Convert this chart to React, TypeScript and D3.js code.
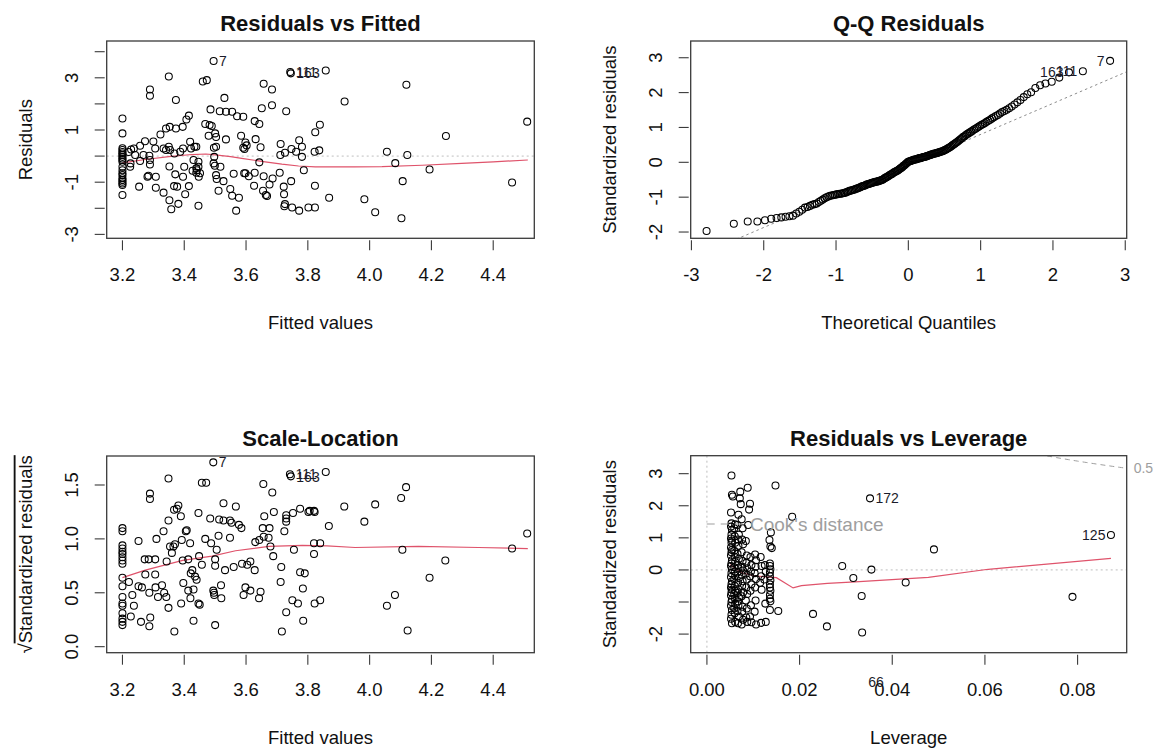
import React from "react";
import * as d3 from "d3";

// Residuals vs Fitted: [fitted value, residual]
const residVsFitted: [number, number][] = [
  [3.2, 1.44], [3.2, 0.87], [3.2, 0.3], [3.2, 0.23], [3.2, 0.16], [3.2, 0.1], [3.2, 0.04], [3.2, -0.03],
  [3.2, -0.09], [3.2, -0.15], [3.2, -0.22], [3.2, -0.41], [3.2, -0.54], [3.2, -0.66], [3.2, -0.73],
  [3.2, -0.85], [3.2, -0.92], [3.2, -0.98], [3.2, -1.05], [3.2, -1.11], [3.2, -1.49],
  [3.22, 0.16], [3.228, 0.25], [3.237, 0.29], [3.226, -0.28], [3.225, -0.41], [3.241, 0.04], [3.254, -1.17],
  [3.257, 0.4], [3.257, -0.19], [3.268, 0.04], [3.273, 0.57], [3.281, -0.79], [3.284, -0.75], [3.287, 0.01],
  [3.289, -0.32], [3.289, -0.15], [3.289, 2.55], [3.289, 2.31], [3.3, 0.56], [3.306, 0.29], [3.308, -0.79],
  [3.308, -1.21],
  [3.323, 0.83], [3.333, 0.29], [3.333, -1.4], [3.341, 1.06], [3.341, 0.23], [3.35, 0.36], [3.35, 3.05],
  [3.353, 1.12], [3.352, -0.4], [3.352, -1.69], [3.354, 0.23], [3.358, -2.04], [3.368, 0.1], [3.367, -1.15],
  [3.371, -0.7], [3.373, 1.06], [3.373, 2.15], [3.377, -1.17], [3.381, -1.83], [3.387, 0.17], [3.395, 1.12],
  [3.396, 0.29], [3.396, -0.79], [3.4, -0.41], [3.403, -1.46],
  [3.407, 1.4], [3.415, 1.55], [3.415, -1.15], [3.419, 0.55], [3.422, 0.29], [3.427, -0.56], [3.43, -0.15],
  [3.433, 0.36], [3.439, 0.36], [3.439, -0.47], [3.439, -0.64], [3.441, -0.54], [3.446, -0.22], [3.446, -0.41],
  [3.446, -1.9], [3.447, -0.79], [3.451, -0.66], [3.46, 2.86], [3.473, 2.91],
  [3.468, 1.23], [3.479, 0.78], [3.482, 1.19], [3.485, 1.79], [3.489, 1.15], [3.495, 3.64], [3.495, -0.28],
  [3.496, 0.32], [3.497, -0.03], [3.499, -0.37], [3.5, 0.87], [3.503, 0.73], [3.503, 0.36], [3.503, -0.73],
  [3.505, -0.88], [3.511, -1.33], [3.515, 1.72], [3.517, -0.41], [3.527, -0.96], [3.53, 2.23], [3.535, 1.7],
  [3.535, 0.64], [3.549, -1.26], [3.555, 1.7], [3.555, -1.52],
  [3.56, -0.68], [3.568, -2.09], [3.571, 1.53], [3.577, -1.6], [3.584, 0.78], [3.591, 1.51], [3.591, 0.32],
  [3.595, 0.27], [3.594, -0.66], [3.598, 0.52], [3.602, 0.41], [3.598, -0.66], [3.609, -0.77], [3.626, -1.14],
  [3.628, 1.34], [3.628, -0.64], [3.631, 0.65], [3.643, 1.23], [3.643, -0.24], [3.647, 0.34], [3.651, 1.83],
  [3.655, -1.33], [3.657, 2.77], [3.657, -0.77], [3.664, -1.49], [3.668, -1.53],
  [3.676, -1.09], [3.684, 2.55], [3.684, 1.95], [3.686, -0.86], [3.709, -0.64], [3.711, 0.04], [3.712, 0.46],
  [3.722, -1.17], [3.723, -1.46], [3.724, -1.92], [3.726, -1.84], [3.726, 0.13], [3.73, 1.72], [3.743, 3.22],
  [3.745, 3.17], [3.746, -0.96], [3.747, 0.27], [3.749, -1.97], [3.762, 0.17], [3.772, 0.61], [3.772, -2.09],
  [3.781, 0.36], [3.781, -0.03], [3.787, -0.54],
  [3.802, -1.97], [3.822, 0.17], [3.823, -1.14], [3.823, -1.97], [3.824, 0.91], [3.837, 0.22], [3.839, 1.2],
  [3.858, 3.28], [3.869, -1.6], [3.919, 2.09], [3.983, -1.65], [4.018, -2.15], [4.056, 0.17], [4.083, -0.27],
  [4.103, -2.38], [4.107, -0.96], [4.119, 2.73], [4.122, 0.04], [4.194, -0.51], [4.247, 0.77], [4.461, -1.01],
  [4.51, 1.32],
];
const residSmooth: [number, number][] = [
  [3.2, -0.26], [3.274, -0.13], [3.35, -0.02], [3.425, 0.06], [3.47, 0.08], [3.5, 0.05], [3.55, -0.02],
  [3.586, -0.09], [3.65, -0.2], [3.716, -0.31], [3.77, -0.38], [3.824, -0.41], [3.95, -0.41], [4.04, -0.4],
  [4.17, -0.35], [4.298, -0.28], [4.4, -0.22], [4.512, -0.15],
];
const residIds = [
  { id: "7", x: 3.495, y: 3.64, side: "right" },
  { id: "111", x: 3.743, y: 3.22, side: "right" },
  { id: "163", x: 3.745, y: 3.17, side: "right" },
];

// Q-Q Residuals: sorted standardized residuals
const qqSample = [
  -1.97, -1.76, -1.7, -1.7, -1.66, -1.62, -1.6, -1.58, -1.56, -1.55,
  -1.53, -1.47, -1.42, -1.36, -1.3, -1.28, -1.25, -1.22, -1.2, -1.18,
  -1.14, -1.1, -1.07, -1.03, -1.0, -0.98, -0.96, -0.95, -0.94, -0.93,
  -0.92, -0.91, -0.9, -0.9, -0.89, -0.88, -0.87, -0.85, -0.84, -0.82,
  -0.81, -0.8, -0.79, -0.78, -0.76, -0.75, -0.74, -0.72, -0.71, -0.69,
  -0.68, -0.67, -0.66, -0.64, -0.63, -0.62, -0.61, -0.6, -0.59, -0.58,
  -0.57, -0.56, -0.56, -0.55, -0.54, -0.53, -0.52, -0.51, -0.5, -0.48,
  -0.46, -0.44, -0.43, -0.41, -0.39, -0.37, -0.35, -0.34, -0.32, -0.3,
  -0.28, -0.27, -0.25, -0.24, -0.22, -0.2, -0.18, -0.16, -0.14, -0.11,
  -0.09, -0.07, -0.04, -0.02, 0.01, 0.02, 0.03, 0.04, 0.05, 0.06,
  0.07, 0.08, 0.08, 0.09, 0.1, 0.11, 0.12, 0.12, 0.13, 0.14,
  0.15, 0.15, 0.16, 0.17, 0.18, 0.19, 0.2, 0.21, 0.22, 0.23,
  0.24, 0.25, 0.25, 0.26, 0.27, 0.28, 0.29, 0.3, 0.31, 0.32,
  0.33, 0.35, 0.36, 0.38, 0.4, 0.42, 0.44, 0.46, 0.49, 0.51,
  0.53, 0.56, 0.58, 0.61, 0.64, 0.67, 0.7, 0.73, 0.75, 0.78,
  0.81, 0.83, 0.86, 0.88, 0.91, 0.94, 0.96, 0.99, 1.02, 1.05,
  1.08, 1.1, 1.13, 1.16, 1.19, 1.22, 1.26, 1.29, 1.33, 1.36,
  1.4, 1.44, 1.47, 1.51, 1.55, 1.6, 1.66, 1.72, 1.79, 1.87,
  1.95, 2.01, 2.13, 2.21, 2.26, 2.31, 2.43, 2.58, 2.61, 2.91,
];
const qqLineFit = { intercept: -0.09, slope: 0.89 };
const qqIds = [
  { id: "7", rank: 190 },
  { id: "111", rank: 189 },
  { id: "163", rank: 188 },
];

// Scale-Location: [fitted value, sqrt(|standardized residual|)]
const scaleLocation: [number, number][] = [
  [3.2, 1.1], [3.2, 1.07], [3.2, 0.94], [3.2, 0.91], [3.2, 0.88], [3.2, 0.86], [3.2, 0.83], [3.2, 0.8],
  [3.2, 0.77], [3.2, 0.64], [3.2, 0.56], [3.2, 0.46], [3.2, 0.4], [3.2, 0.38], [3.2, 0.31], [3.2, 0.26],
  [3.2, 0.23], [3.2, 0.2],
  [3.221, 0.6], [3.227, 0.28], [3.232, 0.48], [3.237, 0.38], [3.252, 0.98], [3.252, 0.56], [3.26, 0.23],
  [3.263, 0.55], [3.272, 0.81], [3.274, 0.67], [3.285, 0.81], [3.287, 0.5], [3.287, 0.19], [3.289, 1.42],
  [3.289, 1.37], [3.29, 0.27], [3.306, 0.81], [3.306, 0.67], [3.307, 0.55], [3.31, 1.0], [3.315, 0.46],
  [3.328, 0.57], [3.333, 1.07], [3.335, 0.5], [3.342, 0.46], [3.343, 0.79], [3.349, 1.17], [3.349, 0.36],
  [3.349, 1.56], [3.354, 0.93], [3.36, 0.87], [3.365, 0.93], [3.367, 1.27], [3.368, 0.14], [3.37, 0.95],
  [3.376, 1.28], [3.381, 1.31], [3.389, 1.21], [3.392, 0.99], [3.395, 0.8], [3.397, 0.59], [3.39, 0.4],
  [3.405, 1.07], [3.408, 1.08], [3.413, 0.81], [3.413, 0.52], [3.419, 0.96], [3.42, 0.45], [3.421, 0.68],
  [3.426, 0.71], [3.43, 0.53], [3.43, 0.24], [3.435, 0.65], [3.44, 0.62], [3.446, 1.24], [3.446, 0.4],
  [3.448, 0.84], [3.45, 0.39], [3.457, 0.76], [3.457, 1.52], [3.471, 1.52], [3.468, 1.0], [3.484, 1.19],
  [3.487, 0.96], [3.494, 1.71], [3.494, 0.52], [3.496, 0.5], [3.497, 0.48], [3.5, 0.81], [3.5, 0.75],
  [3.5, 0.2], [3.505, 0.9], [3.511, 1.03], [3.513, 1.18], [3.519, 0.57], [3.52, 0.45], [3.527, 1.17],
  [3.527, 1.33], [3.532, 0.71], [3.548, 1.17], [3.548, 1.01], [3.553, 1.15], [3.56, 0.74], [3.567, 1.3],
  [3.577, 1.13], [3.585, 1.1], [3.587, 0.77], [3.592, 0.48], [3.598, 0.55], [3.604, 0.76], [3.614, 0.79],
  [3.614, 0.52], [3.628, 0.71], [3.63, 0.97], [3.642, 0.45], [3.643, 0.99], [3.647, 0.51], [3.654, 1.1],
  [3.656, 1.51], [3.657, 1.02], [3.659, 1.21], [3.673, 1.01], [3.676, 1.1], [3.679, 0.93], [3.685, 1.43],
  [3.688, 0.84], [3.69, 1.25], [3.712, 0.6], [3.714, 0.74], [3.716, 0.14], [3.724, 1.07], [3.73, 1.16],
  [3.73, 1.19], [3.73, 0.32], [3.73, 1.22], [3.742, 1.6], [3.745, 1.58], [3.75, 0.43], [3.752, 1.24],
  [3.755, 0.9], [3.768, 0.4], [3.775, 0.69], [3.775, 1.28], [3.784, 0.54], [3.785, 0.24], [3.79, 0.68],
  [3.802, 1.25], [3.806, 1.26], [3.82, 1.26], [3.82, 0.96], [3.822, 1.25], [3.82, 0.86], [3.822, 0.4],
  [3.84, 0.96], [3.84, 0.43], [3.858, 1.62], [3.868, 1.12], [3.918, 1.3], [3.983, 1.16], [4.018, 1.32],
  [4.056, 0.38], [4.082, 0.48], [4.102, 1.38], [4.106, 0.9], [4.118, 1.48], [4.123, 0.15], [4.194, 0.64],
  [4.245, 0.8], [4.461, 0.91], [4.51, 1.05],
];
const slSmooth: [number, number][] = [
  [3.2, 0.64], [3.274, 0.71], [3.395, 0.8], [3.49, 0.84], [3.566, 0.89], [3.674, 0.93], [3.782, 0.94],
  [3.862, 0.935], [3.953, 0.92], [4.158, 0.93], [4.352, 0.92], [4.512, 0.91],
];
const slIds = [
  { id: "7", x: 3.494, y: 1.71, side: "right" },
  { id: "111", x: 3.742, y: 1.6, side: "right" },
  { id: "163", x: 3.745, y: 1.57, side: "right" },
];

// Residuals vs Leverage: [leverage, standardized residual]
const residVsLeverage: [number, number][] = [
  [0.0053, 2.94], [0.0054, 2.34], [0.0056, 2.29], [0.0052, 1.79], [0.0053, 1.45], [0.0052, 1.35], [0.0054, 1.25],
  [0.0053, 1.1], [0.0052, 0.98], [0.0054, 0.92], [0.0053, 0.85], [0.0052, 0.7], [0.0054, 0.62], [0.0053, 0.55],
  [0.0052, 0.45], [0.0054, 0.3], [0.0053, 0.2], [0.0052, 0.12], [0.0054, 0.02], [0.0053, -0.1], [0.0052, -0.22],
  [0.0054, -0.35], [0.0053, -0.45], [0.0052, -0.55], [0.0054, -0.62], [0.0053, -0.7], [0.0052, -0.8],
  [0.0054, -0.92], [0.0053, -1.0], [0.0052, -1.12], [0.0054, -1.25], [0.0053, -1.4], [0.0052, -1.52], [0.0054, -1.66],
  [0.0061, 1.42], [0.0059, 1.3], [0.006, 1.05], [0.0061, 0.85], [0.0059, 0.6], [0.006, 0.4], [0.0061, 0.25],
  [0.0059, 0.08], [0.006, -0.05], [0.0061, -0.18], [0.0059, -0.3], [0.006, -0.5], [0.0061, -0.65], [0.0059, -0.75],
  [0.006, -0.88], [0.0061, -1.05], [0.0059, -1.2], [0.006, -1.35], [0.0061, -1.62],
  [0.0071, 2.23], [0.0068, 1.72], [0.0066, 1.4], [0.0069, 1.1], [0.0067, 0.95], [0.0068, 0.75], [0.0066, 0.5],
  [0.0069, 0.35], [0.0067, 0.15], [0.0068, 0.05], [0.0066, -0.08], [0.0069, -0.25], [0.0067, -0.4], [0.0068, -0.6],
  [0.0066, -0.72], [0.0069, -0.85], [0.0067, -0.98], [0.0068, -1.1], [0.0066, -1.28], [0.0069, -1.45], [0.0067, -1.66],
  [0.0072, 2.44], [0.0073, 2.05], [0.0075, 1.58], [0.0077, 1.3], [0.0076, 0.95], [0.0078, 0.8], [0.0075, 0.55],
  [0.0077, 0.28], [0.0076, 0.1], [0.0078, -0.02], [0.0075, -0.15], [0.0077, -0.35], [0.0076, -0.5], [0.0078, -0.7],
  [0.0075, -0.82], [0.0077, -1.15], [0.0076, -1.3], [0.0078, -1.55], [0.0075, -1.7],
  [0.0089, 1.4], [0.0084, 0.9], [0.0086, 0.45], [0.0085, 0.22], [0.0087, 0.05], [0.0084, -0.12], [0.0086, -0.3],
  [0.0085, -0.55], [0.0087, -0.75], [0.0084, -0.95], [0.0086, -1.2], [0.0085, -1.48], [0.0087, -1.62],
  [0.0088, 2.56], [0.0093, 2.06], [0.0094, 0.4], [0.0096, 0.15], [0.0095, -0.05], [0.0093, -0.2], [0.0096, -0.45],
  [0.0094, -0.65], [0.0095, -1.1], [0.0093, -1.45], [0.0096, -1.63],
  [0.0091, 1.88], [0.0104, 0.48], [0.0106, 0.3], [0.0105, 0.1], [0.0103, -0.1], [0.0106, -0.28], [0.0104, -0.55],
  [0.0105, -0.95], [0.0103, -1.3], [0.0106, -1.7],
  [0.0116, 0.4], [0.0118, 0.12], [0.0117, -0.2], [0.0115, -0.4], [0.0118, -0.62], [0.0117, -1.65],
  [0.0125, 0.15], [0.0127, -0.05], [0.0124, -0.3], [0.0126, -1.05], [0.0127, -1.62],
  [0.0138, 1.17], [0.0135, 0.93], [0.0137, 0.73], [0.014, 0.68], [0.0136, 0.2], [0.0136, 0.12], [0.0137, 0.02],
  [0.0136, -0.08], [0.0136, -0.2], [0.0137, -0.32], [0.0136, -0.45], [0.0136, -0.55], [0.0137, -0.65],
  [0.0136, -0.78], [0.0136, -0.9], [0.0137, -0.98], [0.0136, -1.25],
  [0.0148, 2.63], [0.0154, -1.28], [0.0184, 1.66], [0.0229, -1.37], [0.0259, -1.76], [0.0292, 0.12],
  [0.0316, -0.25], [0.0334, -0.81], [0.0335, -1.95], [0.0352, 2.23], [0.0355, 0.01], [0.0429, -0.39],
  [0.049, 0.64], [0.0789, -0.84], [0.0872, 1.09],
];
const levSmooth: [number, number][] = [
  [0.005, 0.16], [0.0075, -0.09], [0.0104, -0.19], [0.015, -0.24], [0.0186, -0.56], [0.0204, -0.49],
  [0.026, -0.42], [0.032, -0.37], [0.0478, -0.23], [0.0607, 0.02], [0.0872, 0.36],
];
const levIds = [
  { id: "172", x: 0.0352, y: 2.23, side: "right" },
  { id: "125", x: 0.0872, y: 1.09, side: "left" },
  { id: "66", x: 0.0365, y: -3.65, side: "at" },
];
const cookLevels = [0.5];
const nCoef = 2;

// tick values
const fittedTicks = [3.2, 3.4, 3.6, 3.8, 4.0, 4.2, 4.4];
const residTicks = [-3, -2, -1, 0, 1, 2, 3, 4];
const residTickLabels = [-3, -1, 1, 3];
const qqXTicks = [-3, -2, -1, 0, 1, 2, 3];
const qqYTicks = [-2, -1, 0, 1, 2, 3];
const slYTicks = [0, 0.5, 1, 1.5];
const levXTicks = [0, 0.02, 0.04, 0.06, 0.08];
const levYTicks = [-2, -1, 0, 1, 2, 3];
const levYTickLabels = [-2, 0, 1, 2, 3];

const FONT = "'Liberation Sans', Arial, Helvetica, sans-serif";
const RED = "#DF536B";
const GRAY = "#BEBEBE";
const COOK = "#9E9E9E";

type Box = { l: number; r: number; t: number; b: number };
type Scale = d3.ScaleLinear<number, number>;

// inverse normal CDF (Acklam) for the theoretical quantiles
function qnorm(p: number) {
  const a = [-39.69683028665376, 220.9460984245205, -275.9285104469687, 138.357751867269, -30.66479806614716, 2.506628277459239];
  const b = [-54.47609879822406, 161.5858368580409, -155.6989798598866, 66.80131188771972, -13.28068155288572];
  const c = [-0.007784894002430293, -0.3223964580411365, -2.400758277161838, -2.549732539343734, 4.374664141464968, 2.938163982698783];
  const d = [0.007784695709041462, 0.3224671290700398, 2.445134137142996, 3.754408661907416];
  const tail = (q: number) =>
    (((((c[0] * q + c[1]) * q + c[2]) * q + c[3]) * q + c[4]) * q + c[5]) /
    ((((d[0] * q + d[1]) * q + d[2]) * q + d[3]) * q + 1);
  if (p < 0.02425) return tail(Math.sqrt(-2 * Math.log(p)));
  if (p > 1 - 0.02425) return -tail(Math.sqrt(-2 * Math.log(1 - p)));
  const q = p - 0.5;
  const r = q * q;
  return ((((((a[0] * r + a[1]) * r + a[2]) * r + a[3]) * r + a[4]) * r + a[5]) * q) /
    (((((b[0] * r + b[1]) * r + b[2]) * r + b[3]) * r + b[4]) * r + 1);
}

const Points = ({ data, x, y }: { data: [number, number][]; x: Scale; y: Scale }) => (
  <g fill="none" stroke="#000" strokeWidth={1.05}>
    {data.map((d, i) => (
      <circle key={i} cx={x(d[0])} cy={y(d[1])} r={3.5} />
    ))}
  </g>
);

const Ids = ({ ids, x, y }: { ids: { id: string; x: number; y: number; side: string }[]; x: Scale; y: Scale }) => (
  <g fontFamily={FONT} fontSize={14} fill="#1b1b2a">
    {ids.map((d) => {
      const px = x(d.x);
      const py = y(d.y);
      if (d.side === "at")
        return <text key={d.id} x={px} y={py} textAnchor="middle">{d.id}</text>;
      const right = d.side === "right";
      return (
        <text key={d.id} x={right ? px + 5.5 : px - 5.5} y={py} dy="0.36em" textAnchor={right ? "start" : "end"}>
          {d.id}
        </text>
      );
    })}
  </g>
);

type PanelProps = {
  id: string;
  box: Box;
  xDomain: [number, number];
  yDomain: [number, number];
  xTicks: number[];
  xFmt: (v: number) => string;
  yTicks: number[];
  yLabels: number[];
  yFmt: (v: number) => string;
  title: string;
  xTitle: string;
  yTitle: React.ReactNode;
  clipped: (x: Scale, y: Scale) => React.ReactNode;
  free: (x: Scale, y: Scale) => React.ReactNode;
};

function Panel(p: PanelProps) {
  const { box } = p;
  const x = d3.scaleLinear().domain(p.xDomain).range([box.l, box.r]);
  const y = d3.scaleLinear().domain(p.yDomain).range([box.b, box.t]);
  const cx = (box.l + box.r) / 2;
  const cy = (box.t + box.b) / 2;
  return (
    <g fontFamily={FONT}>
      <defs>
        <clipPath id={p.id}>
          <rect x={box.l} y={box.t} width={box.r - box.l} height={box.b - box.t} />
        </clipPath>
      </defs>
      <g clipPath={`url(#${p.id})`}>{p.clipped(x, y)}</g>
      {p.free(x, y)}
      <rect x={box.l} y={box.t} width={box.r - box.l} height={box.b - box.t} fill="none" stroke="#3a3a3a" strokeWidth={1.3} />
      <g stroke="#3a3a3a" strokeWidth={1.1}>
        {p.xTicks.map((v) => (
          <line key={v} x1={x(v)} x2={x(v)} y1={box.b + 2} y2={box.b + 12} />
        ))}
        {p.yTicks.map((v) => (
          <line key={v} x1={box.l - 2} x2={box.l - 12} y1={y(v)} y2={y(v)} />
        ))}
      </g>
      <g fontSize={18.5} fill="#111">
        {p.xTicks.map((v) => (
          <text key={v} x={x(v)} y={box.b + 43} textAnchor="middle">{p.xFmt(v)}</text>
        ))}
        {p.yLabels.map((v) => (
          <text key={v} transform={`translate(${box.l - 29},${y(v)}) rotate(-90)`} textAnchor="middle">
            {p.yFmt(v)}
          </text>
        ))}
        <text x={cx} y={box.b + 91} textAnchor="middle">{p.xTitle}</text>
        <text transform={`translate(${box.l - 75},${cy}) rotate(-90)`} textAnchor="middle">{p.yTitle}</text>
      </g>
      <text x={cx} y={box.t - 10} textAnchor="middle" fontSize={22} fontWeight="bold" fill="#111">
        {p.title}
      </text>
    </g>
  );
}

const smoothLine = (pts: [number, number][], x: Scale, y: Scale) =>
  d3.line<[number, number]>().x((d) => x(d[0])).y((d) => y(d[1]))(pts) || "";

export default function App() {
  const n = qqSample.length;
  const qqData: [number, number][] = qqSample.map((v, i) => [qnorm((i + 0.5) / n), v]);
  const fmtInt = (v: number) => String(v);
  const fmt1 = d3.format(".1f");
  const fmt2 = d3.format(".2f");

  return (
    <svg width={1160} height={749} style={{ position: "absolute", left: 0, top: 0, background: "#fff" }}>
      <rect width={1160} height={749} fill="#fff" />

      <Panel
        id="clip-rvf"
        box={{ l: 106.7, r: 534.3, t: 41, b: 238.3 }}
        xDomain={[3.149, 4.533]}
        yDomain={[-3.15, 4.41]}
        xTicks={fittedTicks}
        xFmt={fmt1}
        yTicks={residTicks}
        yLabels={residTickLabels}
        yFmt={fmtInt}
        title="Residuals vs Fitted"
        xTitle="Fitted values"
        yTitle="Residuals"
        clipped={(x, y) => (
          <g>
            <line x1={x.range()[0]} x2={x.range()[1]} y1={y(0)} y2={y(0)} stroke={GRAY} strokeDasharray="2 3" />
            <path d={smoothLine(residSmooth, x, y)} fill="none" stroke={RED} strokeWidth={1.2} />
          </g>
        )}
        free={(x, y) => (
          <g>
            <Points data={residVsFitted} x={x} y={y} />
            <Ids ids={residIds} x={x} y={y} />
          </g>
        )}
      />

      <Panel
        id="clip-qq"
        box={{ l: 690.7, r: 1126.7, t: 41, b: 238.3 }}
        xDomain={[-3.01, 3.02]}
        yDomain={[-2.18, 3.48]}
        xTicks={qqXTicks}
        xFmt={fmtInt}
        yTicks={qqYTicks}
        yLabels={qqYTicks}
        yFmt={fmtInt}
        title="Q-Q Residuals"
        xTitle="Theoretical Quantiles"
        yTitle="Standardized residuals"
        clipped={(x, y) => {
          const [x0, x1] = x.domain();
          return (
            <line
              x1={x(x0)}
              x2={x(x1)}
              y1={y(qqLineFit.intercept + qqLineFit.slope * x0)}
              y2={y(qqLineFit.intercept + qqLineFit.slope * x1)}
              stroke="#8c8c8c"
              strokeDasharray="2.5 3"
            />
          );
        }}
        free={(x, y) => (
          <g>
            <Points data={qqData} x={x} y={y} />
            <Ids
              ids={qqIds.map((d) => ({ id: d.id, x: qqData[d.rank - 1][0], y: qqData[d.rank - 1][1], side: "left" }))}
              x={x}
              y={y}
            />
          </g>
        )}
      />

      <Panel
        id="clip-sl"
        box={{ l: 106.7, r: 534.3, t: 456, b: 652.7 }}
        xDomain={[3.149, 4.533]}
        yDomain={[-0.056, 1.769]}
        xTicks={fittedTicks}
        xFmt={fmt1}
        yTicks={slYTicks}
        yLabels={slYTicks}
        yFmt={fmt1}
        title="Scale-Location"
        xTitle="Fitted values"
        yTitle={
          <>
            <tspan>√</tspan>
            <tspan textDecoration="overline" style={{ textDecoration: "overline" }}>Standardized residuals</tspan>
          </>
        }
        clipped={(x, y) => <path d={smoothLine(slSmooth, x, y)} fill="none" stroke={RED} strokeWidth={1.2} />}
        free={(x, y) => (
          <g>
            <Points data={scaleLocation} x={x} y={y} />
            <Ids ids={slIds} x={x} y={y} />
          </g>
        )}
      />

      <Panel
        id="clip-rvl"
        box={{ l: 690.7, r: 1126.7, t: 455.7, b: 652.7 }}
        xDomain={[-0.0035, 0.0906]}
        yDomain={[-2.58, 3.56]}
        xTicks={levXTicks}
        xFmt={fmt2}
        yTicks={levYTicks}
        yLabels={levYTickLabels}
        yFmt={fmtInt}
        title="Residuals vs Leverage"
        xTitle="Leverage"
        yTitle="Standardized residuals"
        clipped={(x, y) => {
          const h1 = x.domain()[1];
          const hs = d3.range(0.002, h1 + 0.0005, 0.0005);
          return (
            <g>
              <line x1={x.range()[0]} x2={x.range()[1]} y1={y(0)} y2={y(0)} stroke={GRAY} strokeDasharray="2 3" />
              <line x1={x(0)} x2={x(0)} y1={y.range()[0]} y2={y.range()[1]} stroke={GRAY} strokeDasharray="2 3" />
              {cookLevels.map((lev) =>
                [1, -1].map((sgn) => (
                  <path
                    key={`${lev}${sgn}`}
                    d={
                      d3
                        .line<number>()
                        .x((h) => x(h))
                        .y((h) => y(sgn * Math.sqrt((nCoef * lev * (1 - h)) / h)))(hs) || ""
                    }
                    fill="none"
                    stroke={COOK}
                    strokeDasharray="5 4"
                  />
                ))
              )}
              <path d={smoothLine(levSmooth, x, y)} fill="none" stroke={RED} strokeWidth={1.2} />
            </g>
          );
        }}
        free={(x, y) => {
          const h1 = x.domain()[1];
          return (
            <g>
              <Points data={residVsLeverage} x={x} y={y} />
              <Ids ids={levIds} x={x} y={y} />
              {cookLevels.map((lev) => (
                <text
                  key={lev}
                  x={x(h1) + 7}
                  y={y(Math.sqrt((nCoef * lev * (1 - h1)) / h1))}
                  dy="0.36em"
                  fontSize={14}
                  fill={COOK}
                  fontFamily={FONT}
                >
                  {lev}
                </text>
              ))}
              <g>
                <line x1={706.7} x2={746.7} y1={524} y2={524} stroke={COOK} strokeDasharray="8 6" strokeWidth={1.2} />
                <text x={750} y={524} dy="0.36em" fontSize={19} fill={COOK} fontFamily={FONT}>
                  Cook's distance
                </text>
              </g>
            </g>
          );
        }}
      />
    </svg>
  );
}
